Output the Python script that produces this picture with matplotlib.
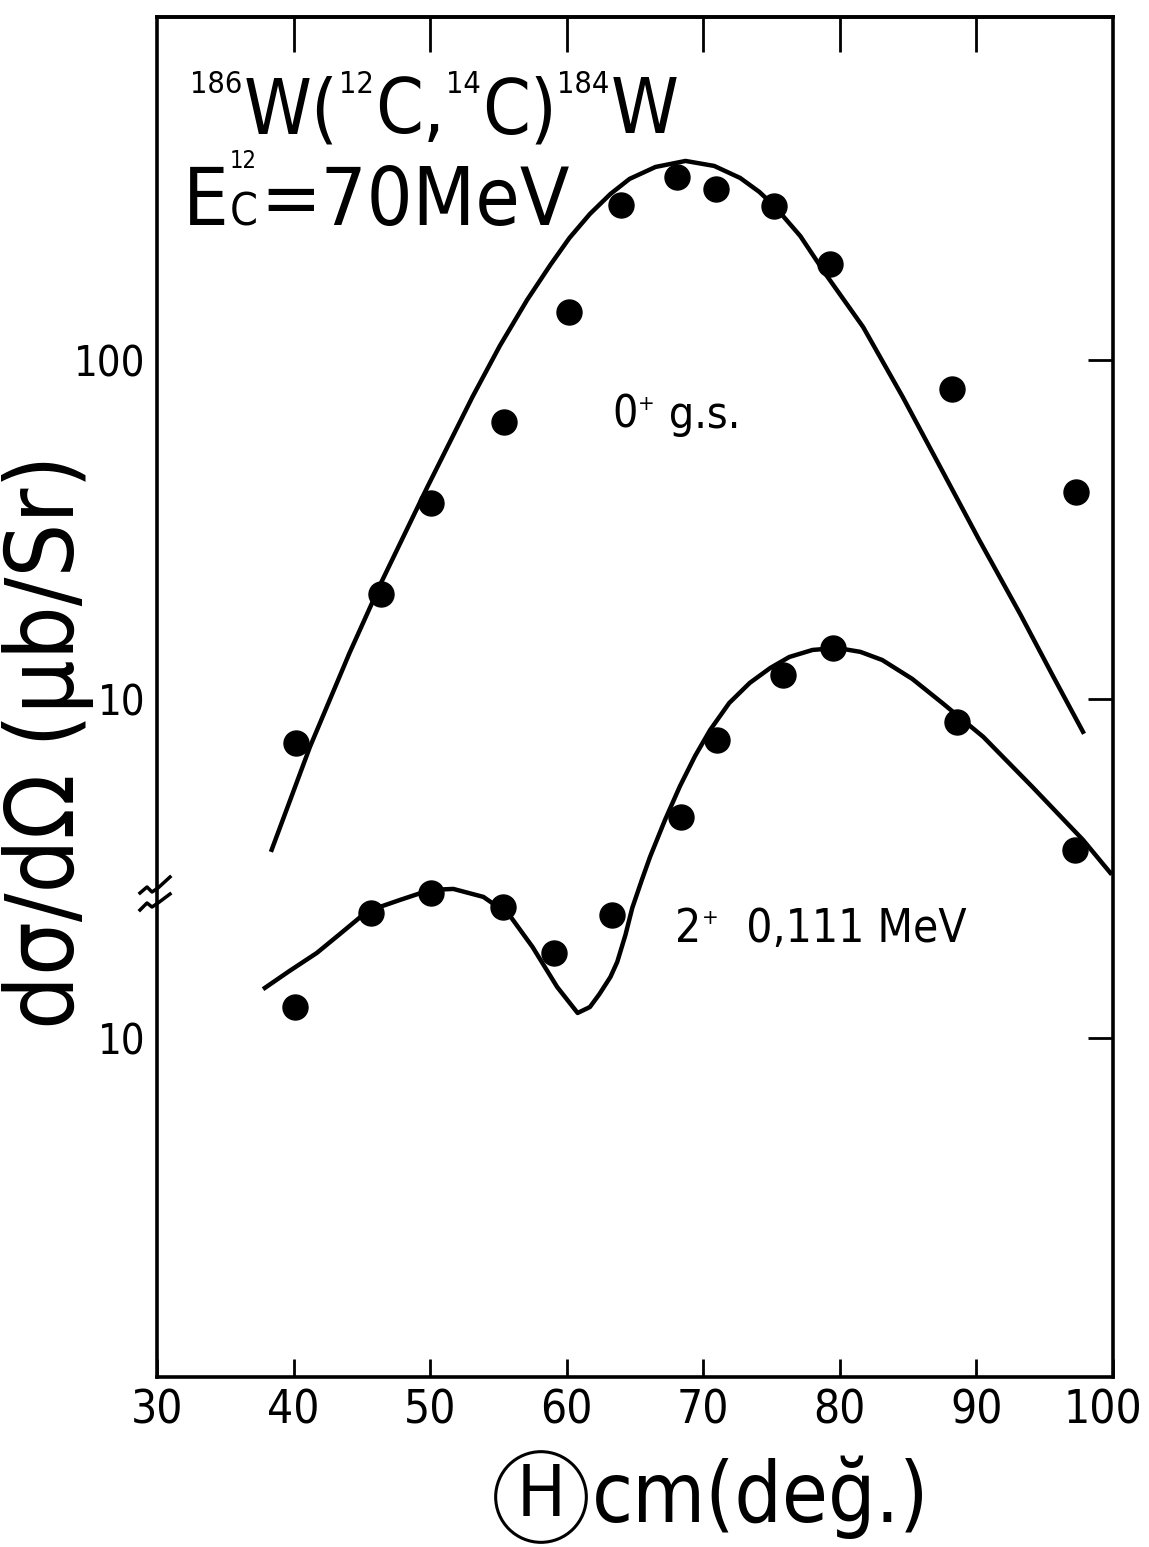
import numpy as np
import matplotlib
matplotlib.use('Agg')
from matplotlib import pyplot as plt
from matplotlib.transforms import ScaledTranslation

plt.rcParams['font.family'] = ['DejaVu Sans']
plt.rcParams['font.stretch'] = 'condensed'

#%% Donnees lues sur la figure
# etat fondamental 0+ : points experimentaux
theta_gs = [40.2, 46.4, 50.1, 55.4, 60.2, 64.0, 68.1, 70.9, 75.2, 79.3, 88.2, 97.3]
sig_gs = [7.42, 20.4, 37.9, 65.7, 138.6, 286.6, 346.6, 319.5, 284.6, 192.0, 82.1, 40.8]

# etat fondamental 0+ : courbe calculee
theta_gs_th = [38.4, 41.2, 44.1, 46.5, 49.8, 53.1, 55.1, 57.1, 58.8, 60.2, 61.7, 63.2,
               64.6, 66.5, 68.7, 70.8, 72.7, 74.1, 75.2, 77.1, 79.0, 81.7, 84.6, 87.5,
               90.2, 93.2, 95.6, 97.8]
sig_gs_th = [3.59, 7.22, 13.67, 22.4, 42.2, 77.8, 110.0, 150.3, 190.6, 229.0, 269.6, 308.7,
             342.0, 370.9, 386.4, 373.5, 344.2, 313.2, 284.6, 232.1, 178.1, 125.1, 77.8, 47.07,
             29.45, 17.81, 11.69, 8.0]

# etat 2+ 0,111 MeV : points experimentaux (echelle decalee d'une decade)
theta_2p = [40.1, 45.7, 50.1, 55.3, 59.1, 63.3, 68.4, 71.0, 75.8, 79.5, 88.6, 97.2]
sig_2p = [1.234, 2.337, 2.678, 2.434, 1.781, 2.306, 4.486, 7.57, 11.77, 14.14, 8.56, 3.59]

# etat 2+ : courbe calculee
theta_2p_th = [37.9, 39.7, 41.7, 43.4, 44.9, 46.3, 47.8, 50.0, 51.7, 53.9, 55.8, 57.5,
               59.3, 60.8, 61.7, 62.4, 63.2, 63.7, 64.3, 64.8, 65.5, 66.1, 67.2, 68.3,
               69.4, 70.5, 71.9, 73.4, 74.9, 76.3, 78.0, 79.8, 81.5, 83.1, 85.3, 87.5,
               90.5, 94.1, 97.8, 99.8]
sig_2p_th = [1.405, 1.576, 1.781, 2.027, 2.275, 2.434, 2.554, 2.733, 2.752, 2.607, 2.306, 1.855,
             1.414, 1.185, 1.234, 1.348, 1.513, 1.676, 2.013, 2.418, 2.925, 3.42, 4.40, 5.54,
             6.79, 8.10, 9.73, 11.15, 12.34, 13.30, 13.95, 14.14, 13.77, 13.03, 11.46, 9.73,
             7.73, 5.50, 3.84, 3.07]

xticks = [30, 40, 50, 60, 70, 80, 90, 100]
yticks = [1, 10, 100]
ytick_labels = ['10', '10', '100']

W, H = 1149, 1547

#%% Figure
fig = plt.figure(figsize=(W / 100, H / 100), dpi=100)
ax = fig.add_axes([0.1366, 0.1099, 0.8321, 0.8791])

ax.plot(theta_gs_th, sig_gs_th, 'k-', lw=3.2, solid_joinstyle='round')
ax.plot(theta_2p_th, sig_2p_th, 'k-', lw=3.2, solid_joinstyle='round')
ax.plot(theta_gs, sig_gs, 'ko', ms=18)
ax.plot(theta_2p, sig_2p, 'ko', ms=18)

ax.set_yscale('log')
ax.set_xlim(30, 100)
ax.set_ylim(0.1, 1027)
ax.set_xticks(xticks)
ax.set_xticklabels([str(v) for v in xticks])
ax.set_yticks(yticks)
ax.set_yticklabels(ytick_labels)
ax.yaxis.set_minor_locator(matplotlib.ticker.NullLocator())

for s in ax.spines.values():
    s.set_linewidth(2.6)

ax.tick_params(axis='x', direction='in', length=13, width=2, labelsize=33, pad=8,
               bottom=True, top=False)
ax.tick_params(axis='y', direction='in', length=18, width=2, labelsize=30, pad=8,
               left=False, right=True)
# le dernier label "100" est decale un peu a gauche pour rester dans la figure
lab100 = ax.get_xticklabels()[-1]
lab100.set_transform(lab100.get_transform() + ScaledTranslation(-10 / 100, 0, fig.dpi_scale_trans))

topax = ax.secondary_xaxis('top')
topax.set_xticks(xticks[1:-1])
topax.tick_params(direction='in', length=25, width=2, labeltop=False)
topax.spines['top'].set_linewidth(2.6)

# symbole de coupure de l'axe
brk_x = [140, 147, 152, 158, 170]
for brk_y in ([893, 887, 892, 888, 877], [910, 903, 907, 903, 894]):
    fig.lines.append(plt.Line2D(np.array(brk_x) / W, 1 - np.array(brk_y) / H,
                                color='k', lw=2.5, transform=fig.transFigure))

renderer = fig.canvas.get_renderer()

def chain(x, y, pieces):
    # texte compose de morceaux de tailles differentes, places de gauche a droite
    for s, fs, dy in pieces:
        t = fig.text(x / W, 1 - (y - dy) / H, s, fontsize=fs, ha='left', va='baseline')
        x = t.get_window_extent(renderer).x1 + 1
    return x

chain(190, 133, [('186', 22, 40), ('W(', 55, 0), ('12', 22, 40), ('C,', 55, 0),
                 ('14', 22, 40), ('C)', 55, 0), ('184', 22, 40), ('W', 55, 0)])

x = chain(183, 225, [('E', 58, 0)])
fig.text(x / W, 1 - 168 / H, '12', fontsize=17, ha='left', va='baseline')
x = chain(x, 225, [('C', 32, 0)])
chain(x + 2, 225, [('=70MeV', 58, 0)])

chain(612, 428, [('0', 32, 0), ('+', 16, 18), (' g.s.', 32, 0)])
chain(675, 942, [('2', 33, 0), ('+', 16, 18), ('  0,111 MeV', 33, 0)])

fig.text(48 / W, 1 - 742 / H, 'dσ/dΩ (μb/Sr)', rotation=90,
         fontsize=68, ha='center', va='center')
fig.text(541 / W, 1 - 1497 / H, 'H', fontsize=52, ha='center', va='center',
         bbox=dict(boxstyle='circle,pad=0.15', fc='none', ec='k', lw=2.2))
fig.text(592 / W, 1 - 1497 / H, 'cm(değ.)', fontsize=60, ha='left', va='center')

fig.savefig('out.png', dpi=100, facecolor='white')
